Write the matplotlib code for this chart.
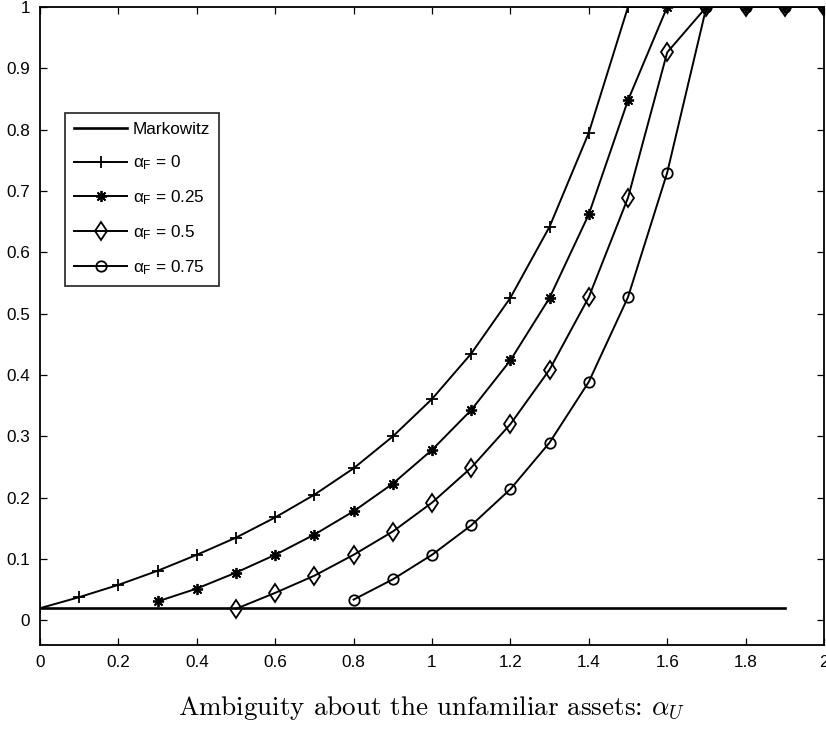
import numpy as np
import matplotlib.pyplot as plt
from matplotlib.font_manager import FontProperties

# values
x_mark = np.arange(0, 1.95, 0.1)
y_mark = np.full(len(x_mark), 0.02)

x_a0 = np.round(np.arange(0, 2.05, 0.1), 2)
y_a0 = [0.02, 0.038, 0.058, 0.081, 0.107, 0.135, 0.168, 0.205, 0.248, 0.300,
        0.361, 0.435, 0.526, 0.642, 0.795, 1, 1, 1, 1, 1, 1]

x_a25 = np.round(np.arange(0.3, 2.05, 0.1), 2)
y_a25 = [0.031, 0.052, 0.078, 0.107, 0.140, 0.178, 0.223, 0.278, 0.343, 0.424,
         0.526, 0.662, 0.848, 1, 1, 1, 1, 1]

x_a50 = np.round(np.arange(0.5, 2.05, 0.1), 2)
y_a50 = [0.019, 0.045, 0.073, 0.107, 0.145, 0.192, 0.249, 0.320, 0.409, 0.527,
         0.689, 0.926, 1, 1, 1, 1]

x_a75 = np.round(np.arange(0.8, 2.05, 0.1), 2)
y_a75 = [0.034, 0.067, 0.107, 0.155, 0.214, 0.290, 0.389, 0.527, 0.730, 1,
         1, 1, 1]

xticks = np.round(np.arange(0, 2.01, 0.2), 1)
xtick_labels = ['0', '0.2', '0.4', '0.6', '0.8', '1', '1.2', '1.4', '1.6', '1.8', '2']
yticks = np.round(np.arange(0, 1.01, 0.1), 1)
ytick_labels = ['0', '0.1', '0.2', '0.3', '0.4', '0.5', '0.6', '0.7', '0.8', '0.9', '1']

plt.rcParams['font.family'] = ['Liberation Sans', 'DejaVu Sans']
plt.rcParams['mathtext.fontset'] = 'custom'
plt.rcParams['mathtext.rm'] = 'Liberation Sans'
plt.rcParams['mathtext.it'] = 'Liberation Sans'
plt.rcParams['mathtext.bf'] = 'Liberation Sans:bold'

fig = plt.figure(figsize=(8.26, 7.29), dpi=100)
ax = fig.add_axes([40/826, 84/729, 784/826, 638/729])

lw = 1.4
ax.plot(x_mark, y_mark, color='k', lw=1.9, label='Markowitz')
ax.plot(x_a0, y_a0, color='k', lw=lw, marker='+', ms=9, mew=1.3, label=r'$\alpha_F$ = 0')
ax.plot(x_a25, y_a25, color='k', lw=lw, marker=(8, 2, 0), ms=8, mew=1.3, label=r'$\alpha_F$ = 0.25')
ax.plot(x_a50, y_a50, color='k', lw=lw, marker='d', ms=9.5, mew=1.3, mfc='none', label=r'$\alpha_F$ = 0.5')
ax.plot(x_a75, y_a75, color='k', lw=lw, marker='o', ms=7.5, mew=1.3, mfc='none', label=r'$\alpha_F$ = 0.75')

ax.set_xlim(0, 2)
ax.set_ylim(-0.04, 1)
ax.set_xticks(xticks)
ax.set_xticklabels(xtick_labels)
ax.set_yticks(yticks)
ax.set_yticklabels(ytick_labels)
ax.tick_params(direction='in', top=True, right=True, length=5, width=0.9, labelsize=12.3, pad=7)
for s in ax.spines.values():
    s.set_linewidth(1.3)

leg_prop = FontProperties(family=['Liberation Sans', 'DejaVu Sans'], size=12.3)
leg_prop.set_math_fontfamily('custom')
leg = ax.legend(loc='upper left', bbox_to_anchor=(0.032, 0.834), prop=leg_prop,
                frameon=True, fancybox=False, edgecolor='k', handlelength=3.05,
                borderpad=0.55, labelspacing=0.95, handletextpad=0.35, borderaxespad=0)
leg.get_frame().set_linewidth(1.3)

ax.set_xlabel(r'Ambiguity about the unfamiliar assets: $\alpha_U$', family='cmr10',
              fontsize=19.5, math_fontfamily='cm', labelpad=18)

fig.savefig('out.png', dpi=100)
